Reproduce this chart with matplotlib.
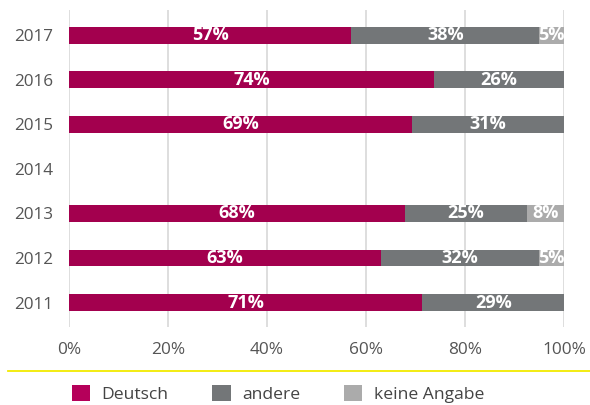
import matplotlib
matplotlib.use("Agg")
import matplotlib.pyplot as plt
from matplotlib.patches import Patch
from matplotlib.lines import Line2D
import numpy as np

plt.rcParams['font.family'] = ['Open Sans', 'DejaVu Sans']

years = ["2011", "2012", "2013", "2014", "2015", "2016", "2017"]
deutsch = [71.4, 63.0, 67.9, 0.0, 69.3, 73.7, 57.0]
andere = [28.6, 32.0, 24.6, 0.0, 30.7, 26.3, 38.0]
keine = [0.0, 5.0, 7.5, 0.0, 0.0, 0.0, 5.0]
series_names = ["Deutsch", "andere", "keine Angabe"]
colors = ["#a3004e", "#737678", "#ababab"]
legend_colors = ["#b5005a", "#737678", "#ababab"]
xticks = [0, 20, 40, 60, 80, 100]

fig = plt.figure(figsize=(5.9, 4.05), dpi=100)
ax = fig.add_axes([69/590, 1-327/405, (564-69)/590, (327-10)/405])

y = np.arange(len(years))
left = np.zeros(len(years))
for vals, col in zip([deutsch, andere, keine], colors):
    vals = np.array(vals)
    ax.barh(y, vals, left=left, height=0.38, color=col, zorder=3)
    for yi, v, l in zip(y, vals, left):
        if v > 0:
            ax.text(l + v/2, yi, f"{v:.0f}%", ha="center", va="center",
                    color="white", fontsize=13, fontweight="bold", zorder=4)
    left = left + vals

ax.set_xlim(0, 100)
ax.set_ylim(-0.55, 6.57)
ax.set_yticks(y)
ax.set_yticklabels(years, fontsize=12.3, color="#555555")
ax.set_xticks(xticks)
ax.set_xticklabels([f"{t}%" for t in xticks], fontsize=12.4, color="#555555")
ax.tick_params(axis="y", length=0, pad=11.5)
ax.tick_params(axis="x", length=0, pad=11)
ax.xaxis.grid(True, color="#d8d8d8", linewidth=1.2, zorder=0)
ax.set_axisbelow(True)
for s in ax.spines.values():
    s.set_visible(False)

fig.add_artist(Line2D([8/590, 1], [1-370.5/405, 1-370.5/405], color="#f2ea00", linewidth=1.3))

handles = [Patch(facecolor=c, edgecolor="none") for c in legend_colors]
fig.legend(handles, series_names, loc="center", bbox_to_anchor=(278/590, 1-394/405),
           ncol=3, frameon=False, fontsize=12.6, handlelength=1.05, handleheight=1.05,
           columnspacing=2.5, handletextpad=0.65, labelcolor="#444444")

fig.savefig("out.png", dpi=100)
